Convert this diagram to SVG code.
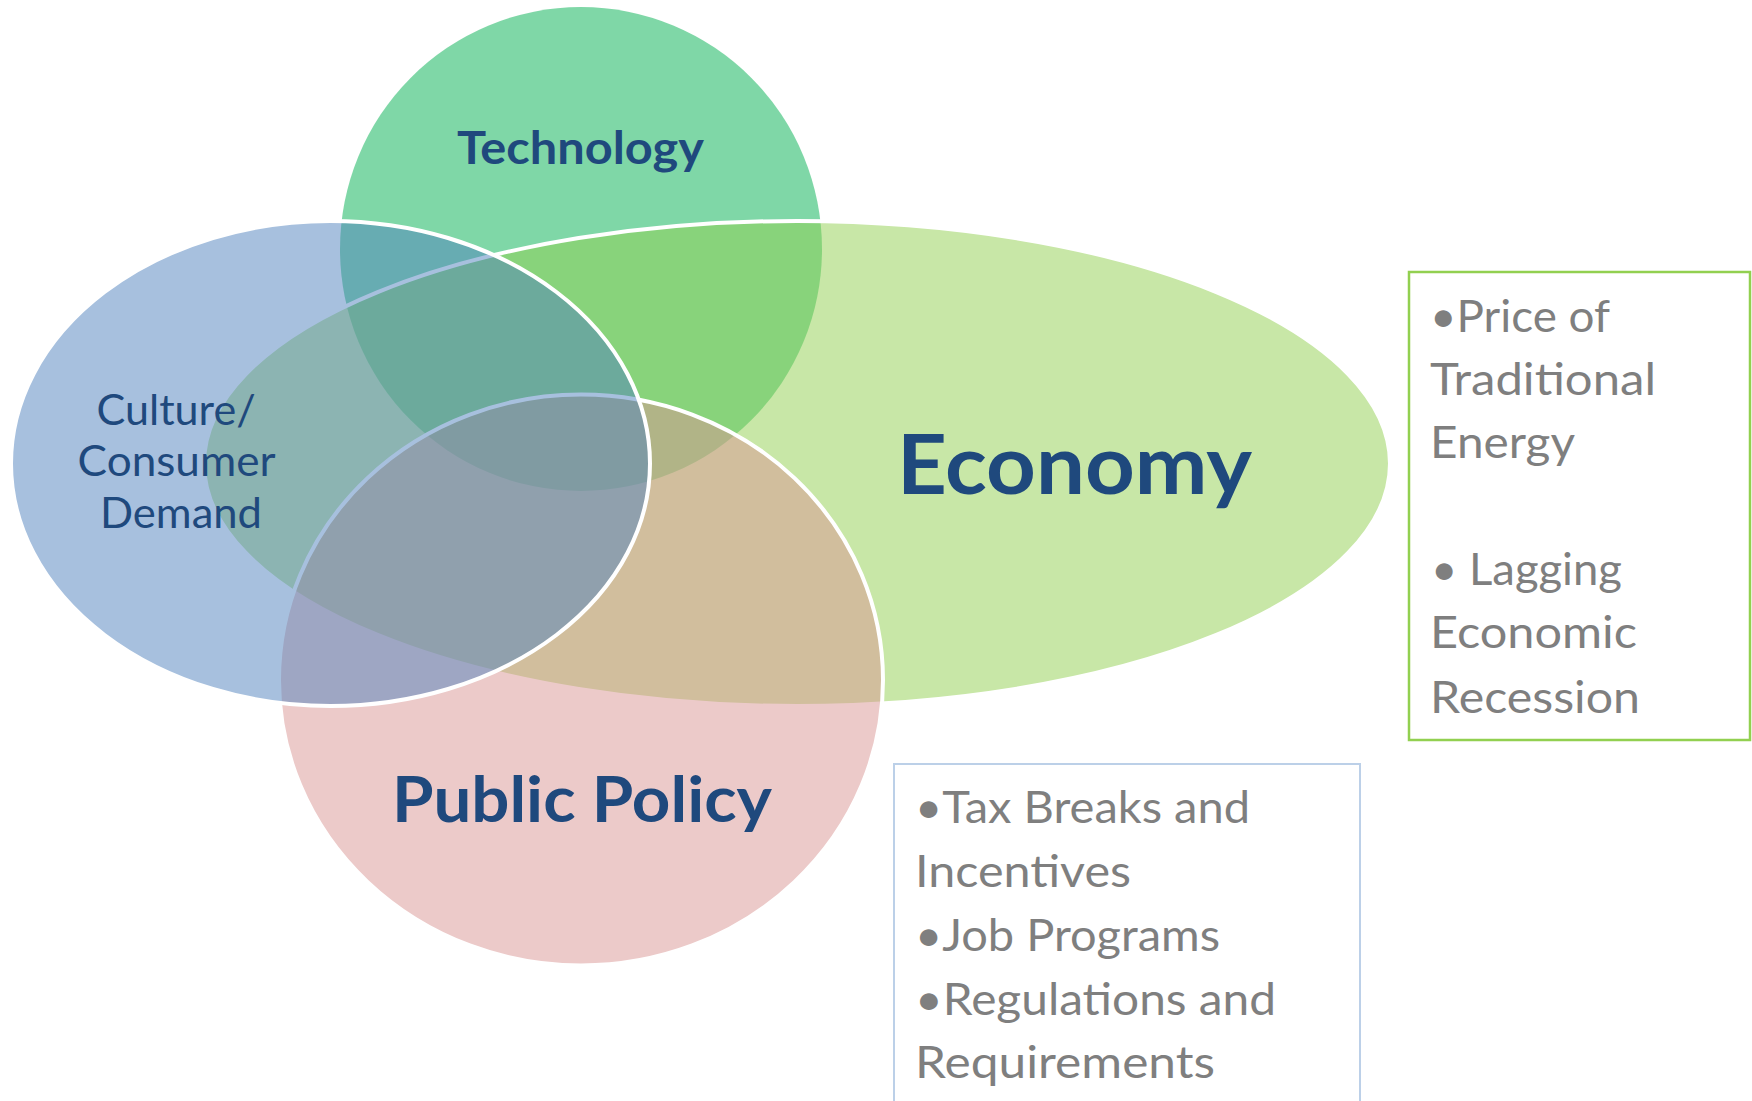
<svg xmlns="http://www.w3.org/2000/svg" width="1752" height="1101" viewBox="0 0 1752 1101">
  <style>
    .shape { fill-opacity: 0.5; }
    .edge { stroke: #FFFFFF; stroke-width: 4; }
    .title { font-family: "Lato", "Liberation Sans", sans-serif; fill: #1F497D; text-anchor: middle; }
    .bold { font-weight: bold; }
    .note { font-family: "Lato", "Liberation Sans", sans-serif; fill: #7F7F7F; font-size: 45px; }
  </style>
  <rect width="1752" height="1101" fill="#FFFFFF"/>
  <g id="technology">
    <ellipse class="shape" cx="581" cy="249" rx="241" ry="242" fill="#00B050"/>
    <text class="title bold" x="580.5" y="164" font-size="46" textLength="247" lengthAdjust="spacingAndGlyphs">Technology</text>
  </g>
  <g id="economy">
    <ellipse class="shape edge" cx="797" cy="463.5" rx="593" ry="242.5" fill="#92D050"/>
    <text class="title bold" x="1074.5" y="494" font-size="83" textLength="355" lengthAdjust="spacingAndGlyphs">Economy</text>
  </g>
  <g id="public-policy">
    <ellipse class="shape edge" cx="581" cy="680" rx="302" ry="285.5" fill="#D99694"/>
    <text class="title bold" x="582" y="822" font-size="64" textLength="380" lengthAdjust="spacingAndGlyphs">Public Policy</text>
  </g>
  <g id="culture">
    <ellipse class="shape edge" cx="330.5" cy="463.5" rx="319.5" ry="242.5" fill="#4F81BD"/>
    <text class="title" font-size="42">
      <tspan x="181.5" y="425" textLength="159" lengthAdjust="spacingAndGlyphs">Culture/</tspan>
      <tspan x="181.5" y="476" textLength="197" lengthAdjust="spacingAndGlyphs">Consumer</tspan>
      <tspan x="181" y="528" textLength="162" lengthAdjust="spacingAndGlyphs">Demand</tspan>
    </text>
  </g>
  <g id="economy-notes">
    <rect x="1409" y="272" width="341" height="468" fill="#FFFFFF" stroke="#92D050" stroke-width="2.5"/>
    <text class="note" x="1430" y="332" textLength="180" lengthAdjust="spacingAndGlyphs">•Price of</text>
    <text class="note" x="1430" y="395" textLength="226" lengthAdjust="spacingAndGlyphs">Traditional</text>
    <text class="note" x="1430" y="458" textLength="145" lengthAdjust="spacingAndGlyphs">Energy</text>
    <text class="note" x="1431" y="585" textLength="191" lengthAdjust="spacingAndGlyphs">• Lagging</text>
    <text class="note" x="1430" y="648" textLength="207" lengthAdjust="spacingAndGlyphs">Economic</text>
    <text class="note" x="1430" y="713" textLength="210" lengthAdjust="spacingAndGlyphs">Recession</text>
  </g>
  <g id="policy-notes">
    <rect x="894" y="764" width="466" height="360" fill="#FFFFFF" stroke="#BCD0E8" stroke-width="2"/>
    <text class="note" x="915" y="823" textLength="335" lengthAdjust="spacingAndGlyphs">•Tax Breaks and</text>
    <text class="note" x="915" y="887" textLength="216" lengthAdjust="spacingAndGlyphs">Incentives</text>
    <text class="note" x="915" y="951" textLength="305" lengthAdjust="spacingAndGlyphs">•Job Programs</text>
    <text class="note" x="915" y="1015" textLength="361" lengthAdjust="spacingAndGlyphs">•Regulations and</text>
    <text class="note" x="915" y="1078" textLength="300" lengthAdjust="spacingAndGlyphs">Requirements</text>
  </g>
  <g id="connectors"/>
</svg>
